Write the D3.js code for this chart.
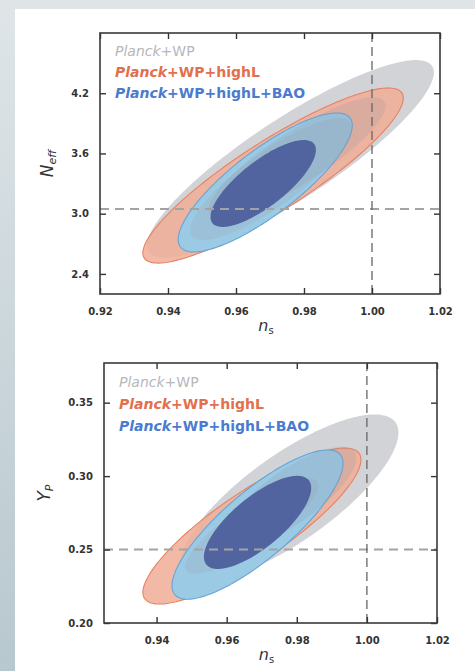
<!DOCTYPE html>
<html>
<head>
<meta charset="utf-8">
<script src="https://cdn.jsdelivr.net/npm/d3@7/dist/d3.min.js"></script>
<style>
  html, body { margin: 0; padding: 0; }
  body { width: 475px; height: 671px; overflow: hidden; }
</style>
</head>
<body>
<svg id="chart" width="475" height="671"></svg>
<script>
// Dataset combinations shown in the legend (order = drawing order)
const seriesNames = ["Planck+WP", "Planck+WP+highL", "Planck+WP+highL+BAO"];
const seriesColors = ["#b6b7bb", "#e2704c", "#4b7bcf"];

// Contours as [centre x, centre y, half-extent x, half-extent y, correlation]
// N_eff vs n_s
const neff95 = [
  [0.9760, 3.545, 0.0422, 0.985, 0.875],
  [0.9709, 3.380, 0.0383, 0.872, 0.885],
  [0.9686, 3.311, 0.0256, 0.692, 0.82]
];
const neff68 = [
  [0.9780, 3.560, 0.0260, 0.600, 0.86],
  [0.9703, 3.345, 0.0238, 0.607, 0.84],
  [0.9680, 3.301, 0.0155, 0.433, 0.77]
];
// Y_P vs n_s
const yp95 = [
  [0.9780, 0.2855, 0.0310, 0.0565, 0.78],
  [0.9672, 0.2660, 0.0311, 0.0531, 0.85],
  [0.9688, 0.2670, 0.0244, 0.0508, 0.82]
];
const yp68 = [
  [0.9780, 0.2855, 0.0190, 0.0345, 0.78],
  [0.9672, 0.2660, 0.0190, 0.0324, 0.85],
  [0.9688, 0.2685, 0.0153, 0.0317, 0.74]
];

// Axis ticks and reference values
const nsTicksTop = [0.92, 0.94, 0.96, 0.98, 1.00, 1.02];
const neffTicks = [2.4, 3.0, 3.6, 4.2];
const nsTicksBottom = [0.94, 0.96, 0.98, 1.00, 1.02];
const ypTicks = [0.20, 0.25, 0.30, 0.35];
const nsReference = 1.00;
const neffReference = 3.046;
const ypReference = 0.25;

const fill95 = ["#d2d3d7", "#f0ad97", "#9bcae5"];
const alpha95 = [1, 0.85, 1];
const stroke95 = ["none", "#e58263", "#6aa3d4"];
const fill68 = ["#8a8f9a", "#9a9aa0", "#52649f"];
const alpha68 = [0.18, 0.2, 1];

const svg = d3.select("#chart");

// page background: grey-blue margin with a white sheet
const defs = svg.append("defs");
const grad = defs.append("linearGradient").attr("id", "edge")
  .attr("x1", 0).attr("y1", 0).attr("x2", 0).attr("y2", 1);
grad.append("stop").attr("offset", 0).attr("stop-color", "#dfe5e8");
grad.append("stop").attr("offset", 1).attr("stop-color", "#b8c8cf");
svg.append("rect").attr("width", 475).attr("height", 671).attr("fill", "url(#edge)");
svg.append("rect").attr("x", 0).attr("y", 0).attr("width", 475).attr("height", 9).attr("fill", "#dfe4e7");
svg.append("rect").attr("x", 15).attr("y", 9).attr("width", 460).attr("height", 662).attr("fill", "#ffffff");

const FONT = "'DejaVu Sans', sans-serif";

function ellipsePoints(c, x, y) {
  const [cx, cy, sx, sy, rho] = c;
  const k = Math.sqrt(1 - rho * rho);
  return d3.range(0, 180).map(i => {
    const t = i / 180 * 2 * Math.PI;
    return [x(cx + sx * Math.cos(t)), y(cy + sy * (rho * Math.cos(t) + k * Math.sin(t)))];
  });
}

function panel(opt) {
  const x = d3.scaleLinear().domain(opt.xDomain).range(opt.xRange);
  const y = d3.scaleLinear().domain(opt.yDomain).range(opt.yRange);
  const g = svg.append("g");
  const clipId = "clip" + opt.id;
  defs.append("clipPath").attr("id", clipId).append("rect")
    .attr("x", opt.xRange[0]).attr("y", opt.yRange[1])
    .attr("width", opt.xRange[1] - opt.xRange[0])
    .attr("height", opt.yRange[0] - opt.yRange[1]);
  const plot = g.append("g").attr("clip-path", `url(#${clipId})`);
  const line = d3.line().curve(d3.curveLinearClosed);

  // 95% regions first, then 68% regions on top
  opt.c95.forEach((c, i) => {
    plot.append("path").attr("d", line(ellipsePoints(c, x, y)))
      .attr("fill", fill95[i]).attr("fill-opacity", alpha95[i])
      .attr("stroke", stroke95[i]).attr("stroke-width", 1.1);
  });
  opt.c68.forEach((c, i) => {
    plot.append("path").attr("d", line(ellipsePoints(c, x, y)))
      .attr("fill", fill68[i]).attr("fill-opacity", alpha68[i]);
  });

  // reference lines
  plot.append("line")
    .attr("x1", x(opt.xDomain[0])).attr("x2", x(opt.xDomain[1]))
    .attr("y1", y(opt.yRef)).attr("y2", y(opt.yRef))
    .attr("stroke", "#a3a3a3").attr("stroke-width", 2).attr("stroke-dasharray", "9,6");
  plot.append("line")
    .attr("x1", x(nsReference)).attr("x2", x(nsReference))
    .attr("y1", y(opt.yDomain[0])).attr("y2", y(opt.yDomain[1]))
    .attr("stroke", "#666").attr("stroke-width", 1.3).attr("stroke-dasharray", "9,5");

  // axes with inward ticks on all four sides
  const styleAxis = sel => {
    sel.select(".domain").remove();
    sel.selectAll(".tick line").attr("stroke", "#333").attr("stroke-width", 1.4);
    sel.selectAll("text").attr("fill", "#333").attr("font-family", FONT)
      .attr("font-size", 10).attr("font-weight", 600);
  };
  g.append("g").attr("transform", `translate(0,${opt.yRange[0]})`)
    .call(d3.axisBottom(x).tickValues(opt.xTicks).tickSize(-6).tickPadding(14).tickFormat(d3.format(".2f")))
    .call(styleAxis);
  g.append("g").attr("transform", `translate(0,${opt.yRange[1]})`)
    .call(d3.axisTop(x).tickValues(opt.xTicks).tickSize(-6).tickFormat(""))
    .call(styleAxis);
  g.append("g").attr("transform", `translate(${opt.xRange[0]},0)`)
    .call(d3.axisLeft(y).tickValues(opt.yTicks).tickSize(-6).tickPadding(11).tickFormat(d3.format(opt.yFormat)))
    .call(styleAxis);
  g.append("g").attr("transform", `translate(${opt.xRange[1]},0)`)
    .call(d3.axisRight(y).tickValues(opt.yTicks).tickSize(-6).tickFormat(""))
    .call(styleAxis);

  g.append("rect")
    .attr("x", opt.xRange[0]).attr("y", opt.yRange[1])
    .attr("width", opt.xRange[1] - opt.xRange[0])
    .attr("height", opt.yRange[0] - opt.yRange[1])
    .attr("fill", "none").attr("stroke", "#3a3a3a").attr("stroke-width", 1.6);

  // legend
  seriesNames.forEach((name, i) => {
    const t = g.append("text")
      .attr("x", opt.legendX).attr("y", opt.legendY + i * opt.legendStep)
      .attr("font-family", FONT).attr("font-size", 14).attr("font-weight", i === 0 ? 400 : 600)
      .attr("fill", seriesColors[i]);
    t.append("tspan").attr("font-style", "italic").text("Planck");
    t.append("tspan").text(name.slice("Planck".length));
  });

  // x label n_s
  const xl = g.append("text")
    .attr("x", (opt.xRange[0] + opt.xRange[1]) / 2 - 4).attr("y", opt.yRange[0] + 37)
    .attr("text-anchor", "middle").attr("font-family", FONT).attr("fill", "#333");
  xl.append("tspan").attr("font-style", "italic").attr("font-size", 16).text("n");
  xl.append("tspan").attr("font-size", 10).attr("dy", 3).text("s");

  // y label
  const ly = (opt.yRange[0] + opt.yRange[1]) / 2;
  const yl = g.append("text")
    .attr("transform", `translate(${opt.yLabelX},${ly}) rotate(-90)`)
    .attr("text-anchor", "middle").attr("font-family", FONT).attr("fill", "#333");
  yl.append("tspan").attr("font-style", "italic").attr("font-size", 17).text(opt.yMain);
  yl.append("tspan").attr("font-style", "italic").attr("font-size", 11).attr("dy", 3).text(opt.ySub);
}

panel({
  id: "neff", xDomain: [0.92, 1.02], xRange: [100, 440],
  yDomain: [2.2, 4.8], yRange: [294, 33],
  xTicks: nsTicksTop, yTicks: neffTicks, yFormat: ".1f",
  c95: neff95, c68: neff68, yRef: neffReference,
  legendX: 115, legendY: 56, legendStep: 21,
  yLabelX: 53, yMain: "N", ySub: "eff"
});

panel({
  id: "yp", xDomain: [0.925, 1.02], xRange: [104, 437],
  yDomain: [0.2, 0.377], yRange: [623, 363],
  xTicks: nsTicksBottom, yTicks: ypTicks, yFormat: ".2f",
  c95: yp95, c68: yp68, yRef: ypReference,
  legendX: 119, legendY: 387, legendStep: 22,
  yLabelX: 50, yMain: "Y", ySub: "P"
});
</script>
</body>
</html>
